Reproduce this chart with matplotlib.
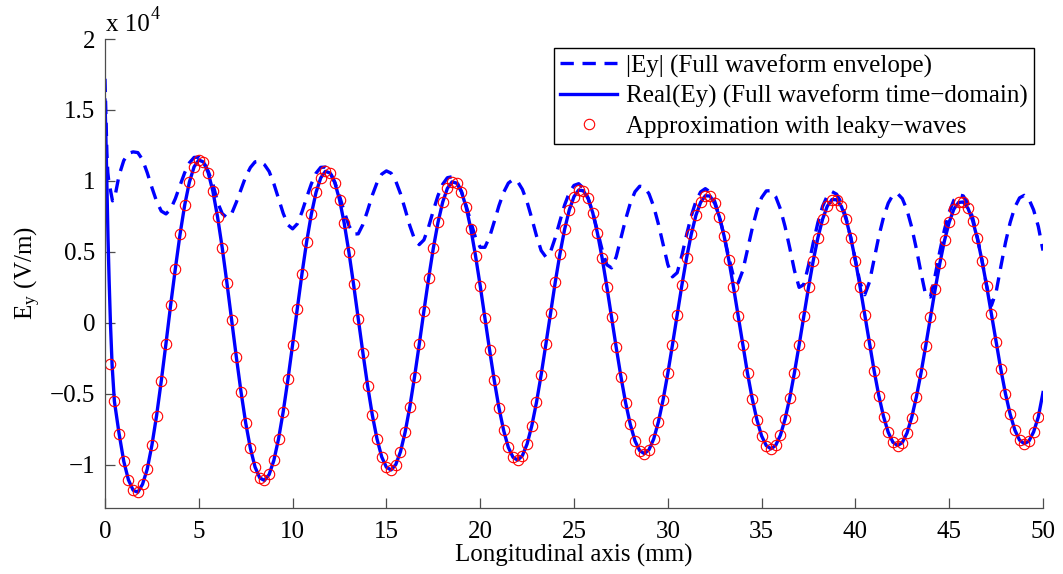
"""
Leaky-wave approximation of the Ey field along the longitudinal axis.
"""

import numpy as np
import matplotlib
matplotlib.use("Agg")
import matplotlib.pyplot as plt
from matplotlib.ticker import FuncFormatter, MultipleLocator


# field values in units of 1e4 V/m
SAMPLE_STEP_MM = 0.25  # leaky-wave samples at x = 0.25, 0.50, ... 49.75 mm

approx_leaky = [
    -0.286, -0.551, -0.779, -0.974, -1.105, -1.178, -1.192, -1.136, -1.030, -0.861,
    -0.652, -0.408, -0.145, 0.127, 0.383, 0.625, 0.832, 0.993, 1.100, 1.148,
    1.134, 1.059, 0.928, 0.747, 0.528, 0.281, 0.021,
    -0.239, -0.485, -0.704, -0.883, -1.015, -1.091, -1.109, -1.067, -0.968, -0.817,
    -0.624, -0.398, -0.152, 0.101, 0.347, 0.573, 0.767, 0.920, 1.022, 1.068,
    1.056, 0.989, 0.869, 0.704, 0.500, 0.272, 0.029,
    -0.213, -0.443, -0.649, -0.817, -0.943, -1.016, -1.035, -0.997, -0.907, -0.768,
    -0.589, -0.379, -0.151, 0.085, 0.314, 0.526, 0.708, 0.851, 0.948, 0.994,
    0.985, 0.925, 0.816, 0.663, 0.474, 0.262, 0.037,
    -0.190, -0.405, -0.598, -0.757, -0.876, -0.946, -0.966, -0.934, -0.852, -0.724,
    -0.559, -0.364, -0.150, 0.071, 0.287, 0.487, 0.660, 0.797, 0.890, 0.936,
    0.931, 0.877, 0.776, 0.633, 0.457, 0.256, 0.043,
    -0.172, -0.377, -0.561, -0.714, -0.830, -0.899, -0.920, -0.892, -0.816, -0.696,
    -0.540, -0.355, -0.152, 0.059, 0.266, 0.458, 0.625, 0.759, 0.850, 0.896,
    0.894, 0.843, 0.748, 0.613, 0.445, 0.254, 0.050,
    -0.157, -0.355, -0.533, -0.682, -0.795, -0.864, -0.886, -0.862, -0.791, -0.677,
    -0.528, -0.350, -0.155, 0.049, 0.250, 0.437, 0.600, 0.731, 0.822, 0.869,
    0.868, 0.822, 0.732, 0.602, 0.440, 0.255, 0.056,
    -0.145, -0.338, -0.513, -0.659, -0.770, -0.840, -0.863, -0.842, -0.775, -0.666,
    -0.521, -0.350, -0.159, 0.040, 0.237, 0.420, 0.581, 0.710, 0.802, 0.849,
    0.852, 0.808, 0.721, 0.595, 0.438, 0.257, 0.063,
    -0.135, -0.325, -0.498, -0.643, -0.754, -0.825, -0.850, -0.832, -0.767, -0.662,
]

# Real(Ey): steep start near the source, then follows the sampled points
real_head_x = [0.0, 0.05, 0.10, 0.16, 0.22, 0.29, 0.38]
real_head_y = [1.57, 1.30, 0.98, 0.60, 0.30, 0.00, -0.30]
real_end_x, real_end_y = 50.0, -0.49

# |Ey| envelope: head near the source, then one value per sample from x = 0.5 mm
env_head_x = [0.0, 0.05, 0.10, 0.15, 0.20, 0.30, 0.40]
env_head_y = [1.72, 1.45, 1.20, 1.06, 1.00, 0.93, 0.86]
envelope = [
    0.870, 1.040, 1.144, 1.195, 1.205, 1.200, 1.150, 1.059, 0.954, 0.857,
    0.788, 0.768, 0.802, 0.876, 0.969, 1.059, 1.128, 1.166, 1.168, 1.135,
    1.069, 0.980, 0.850, 0.770, 0.742, 0.770,
    0.850, 0.940, 1.030, 1.095, 1.135, 1.140, 1.115, 1.067, 0.981, 0.877,
    0.772, 0.691, 0.663, 0.698, 0.782, 0.884, 0.980, 1.055, 1.096, 1.098,
    1.061, 0.991, 0.894, 0.785, 0.686, 0.626, 0.628,
    0.694, 0.793, 0.900, 0.988, 1.048, 1.071, 1.055, 0.999, 0.911, 0.800,
    0.684, 0.590, 0.552, 0.585, 0.677, 0.791, 0.897, 0.977, 1.023, 1.030,
    0.995, 0.925, 0.826, 0.712, 0.601, 0.533, 0.533,
    0.606, 0.714, 0.826, 0.920, 0.985, 1.010, 0.995, 0.941, 0.852, 0.737,
    0.614, 0.510, 0.465, 0.502, 0.600, 0.718, 0.831, 0.918, 0.969, 0.981,
    0.950, 0.881, 0.777, 0.648, 0.515, 0.410, 0.388,
    0.466, 0.596, 0.729, 0.843, 0.924, 0.963, 0.958, 0.909, 0.820, 0.696,
    0.553, 0.412, 0.325, 0.354, 0.475, 0.620, 0.753, 0.858, 0.923, 0.946,
    0.923, 0.856, 0.750, 0.614, 0.462, 0.328, 0.282,
    0.370, 0.518, 0.666, 0.792, 0.883, 0.930, 0.932, 0.890, 0.804, 0.679,
    0.529, 0.370, 0.251, 0.270, 0.405, 0.563, 0.707, 0.821, 0.895, 0.925,
    0.907, 0.845, 0.742, 0.603, 0.442, 0.281, 0.199,
    0.289, 0.451, 0.611, 0.745, 0.844, 0.902, 0.911, 0.876, 0.796, 0.675,
    0.522, 0.352, 0.194, 0.183, 0.334, 0.505, 0.659, 0.781, 0.865, 0.903,
    0.895, 0.840, 0.741, 0.604, 0.439, 0.260, 0.123,
    0.217, 0.395, 0.566, 0.708, 0.816, 0.881, 0.899, 0.872, 0.796, 0.680,
]
env_end_x, env_end_y = 50.0, 0.51

labels = [
    "|Ey| (Full waveform envelope)",
    "Real(Ey) (Full waveform time\u2212domain)",
    "Approximation with leaky\u2212waves",
]


def matlab_fmt(v, _pos):
    return f"{v:g}".replace("-", "\u2212")


def main():
    plt.rcParams["font.family"] = ["Liberation Serif", "DejaVu Serif"]
    plt.rcParams["mathtext.fontset"] = "stix"
    fs = 18

    x_grid = SAMPLE_STEP_MM * np.arange(1, len(approx_leaky) + 1)
    real_x = np.concatenate([real_head_x, x_grid[1:], [real_end_x]])
    real_y = np.concatenate([real_head_y, approx_leaky[1:], [real_end_y]])
    env_x = np.concatenate([env_head_x, x_grid[1:], [env_end_x]])
    env_y = np.concatenate([env_head_y, envelope, [env_end_y]])

    fig = plt.figure(figsize=(10.63, 5.74), dpi=100)
    ax = fig.add_axes([105 / 1063, 1 - 508 / 574, (1043 - 105) / 1063, (508 - 39) / 574])

    ax.plot(env_x, env_y, color="blue", lw=2.4, linestyle=(0, (4.0, 2.6)), label=labels[0])
    ax.plot(real_x, real_y, color="blue", lw=2.4, label=labels[1])
    ax.plot(x_grid, approx_leaky, linestyle="none", marker="o", ms=7.5, mfc="none",
            mec="red", mew=0.8, label=labels[2])

    ax.set_xlim(0, 50)
    ax.set_ylim(-1.303, 2.0)
    ax.xaxis.set_major_locator(MultipleLocator(5))
    ax.yaxis.set_major_locator(MultipleLocator(0.5))
    ax.yaxis.set_major_formatter(FuncFormatter(matlab_fmt))
    ax.xaxis.set_major_formatter(FuncFormatter(matlab_fmt))

    for side in ["top", "right"]:
        ax.spines[side].set_visible(False)
    for side in ["left", "bottom"]:
        ax.spines[side].set_color("0.3")
        ax.spines[side].set_linewidth(0.9)
    ax.tick_params(direction="in", length=7, width=0.9, color="0.3", labelsize=fs)
    ax.tick_params(axis="x", pad=9)
    ax.tick_params(axis="y", pad=7)

    ax.set_xlabel("Longitudinal axis (mm)", fontsize=fs, labelpad=1)
    ax.set_ylabel(r"E$_\mathregular{y}$ (V/m)", fontsize=fs, labelpad=6)
    fig.text(106 / 1063, 1 - 31 / 574, "x 10", fontsize=fs, va="baseline")
    fig.text(151 / 1063, 1 - 19 / 574, "4", fontsize=13, va="baseline")

    leg = ax.legend(loc="upper right", bbox_to_anchor=(1034 / 1063, 1 - 48 / 574),
                    bbox_transform=fig.transFigure, borderaxespad=0, fontsize=fs,
                    fancybox=False, framealpha=1, edgecolor="black", handlelength=2.3,
                    handletextpad=0.35, labelspacing=0.28, borderpad=0.25, numpoints=1)
    leg.get_frame().set_linewidth(1.0)

    fig.savefig("out.png", dpi=100)
    plt.close(fig)


if __name__ == "__main__":
    main()
